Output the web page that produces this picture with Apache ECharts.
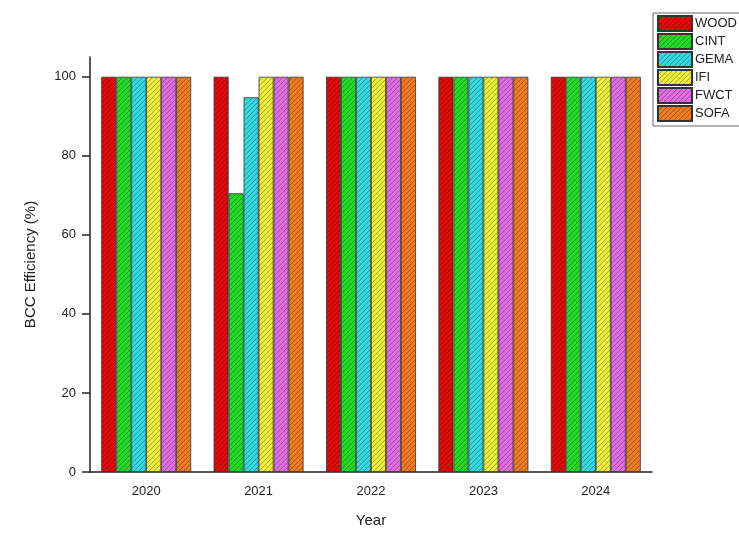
<!DOCTYPE html>
<html>
<head>
<meta charset="utf-8">
<script src="https://cdn.jsdelivr.net/npm/echarts@6/dist/echarts.min.js"></script>
<style>
  html, body { margin: 0; padding: 0; background: #fff; }
  #main { width: 739px; height: 534px; }
</style>
</head>
<body>
<div id="main"></div>
<script>
var years = ['2020', '2021', '2022', '2023', '2024'];
var seriesNames = ['WOOD', 'CINT', 'GEMA', 'IFI', 'FWCT', 'SOFA'];
var wood = [100, 100, 100, 100, 100];
var cint = [100, 70.5, 100, 100, 100];
var gema = [100, 94.8, 100, 100, 100];
var ifi  = [100, 100, 100, 100, 100];
var fwct = [100, 100, 100, 100, 100];
var sofa = [100, 100, 100, 100, 100];
var yTicks = [0, 20, 40, 60, 80, 100];

var values = [wood, cint, gema, ifi, fwct, sofa];
var fills = ['#e00a0a', '#22d92a', '#33d8e0', '#ecec3a', '#e06de0', '#ee7a22'];

// hatch pattern "/" over a solid fill
function hatch(color) {
    var s = 5;
    var c = document.createElement('canvas');
    c.width = s; c.height = s;
    var ctx = c.getContext('2d');
    ctx.fillStyle = color;
    ctx.fillRect(0, 0, s, s);
    ctx.strokeStyle = 'rgba(0,0,0,0.35)';
    ctx.lineWidth = 0.8;
    ctx.beginPath();
    ctx.moveTo(-1, s + 1); ctx.lineTo(s + 1, -1);
    ctx.moveTo(-1, 1); ctx.lineTo(1, -1);
    ctx.moveTo(s - 1, s + 1); ctx.lineTo(s + 1, s - 1);
    ctx.stroke();
    return { image: c, repeat: 'repeat' };
}

var myChart = echarts.init(document.getElementById('main'));

var series = seriesNames.map(function (name, i) {
    return {
        name: name,
        type: 'bar',
        data: values[i],
        barGap: 0,
        barCategoryGap: '20%',
        itemStyle: {
            color: hatch(fills[i]),
            borderColor: '#333',
            borderWidth: 0.8
        }
    };
});

var option = {
    animation: false,
    textStyle: { fontFamily: 'Liberation Sans, Arial, sans-serif' },
    grid: { left: 90, right: 87, top: 57, bottom: 62 },
    legend: {
        orient: 'vertical',
        left: 653,
        top: 13,
        data: seriesNames,
        icon: 'rect',
        itemWidth: 34,
        itemHeight: 15,
        itemGap: 1,
        padding: [2, 10, 4, 4],
        borderColor: '#666',
        borderWidth: 1,
        textStyle: { fontSize: 13, lineHeight: 15, color: '#222', padding: [0, 0, 0, -2] }
    },
    xAxis: {
        type: 'category',
        data: years,
        name: 'Year',
        nameLocation: 'middle',
        nameGap: 41,
        nameTextStyle: { fontSize: 15, color: '#222' },
        axisLine: { lineStyle: { color: '#222', width: 1.5 } },
        axisTick: { alignWithLabel: true, length: 7, lineStyle: { color: '#222', width: 1.5 } },
        axisLabel: { fontSize: 13, color: '#222', margin: 13 }
    },
    yAxis: {
        type: 'value',
        min: 0,
        max: 105,
        interval: 20,
        name: 'BCC Efficiency (%)',
        nameLocation: 'middle',
        nameGap: 52,
        nameTextStyle: { fontSize: 15, color: '#222' },
        splitLine: { show: false },
        axisLine: { show: true, lineStyle: { color: '#222', width: 1.5 } },
        axisTick: { show: true, length: 8, customValues: yTicks, lineStyle: { color: '#222', width: 1.5 } },
        axisLabel: { fontSize: 13, color: '#222', margin: 14, customValues: yTicks }
    },
    series: series
};
myChart.setOption(option);
</script>
</body>
</html>
